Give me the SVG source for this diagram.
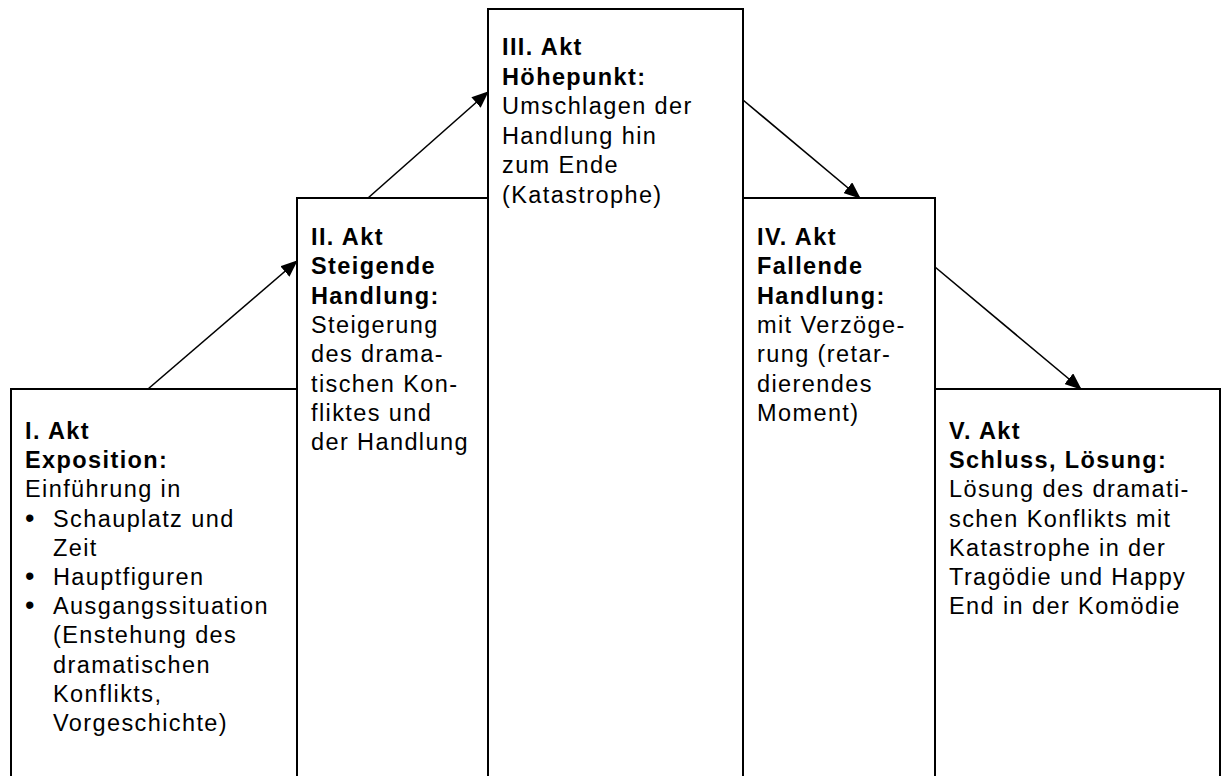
<svg xmlns="http://www.w3.org/2000/svg" width="1221" height="776" viewBox="0 0 1221 776">
<style>
.box{fill:#fff;stroke:#000;stroke-width:2}
text{font-family:"Liberation Sans",Arial,sans-serif;font-size:23.5px;letter-spacing:1.4px;fill:#000}
.b{font-weight:bold}
.bul{font-size:27px}
.con{stroke:#000;stroke-width:1.6;fill:none;marker-end:url(#ah)}
</style>
<defs>
<marker id="ah" viewBox="0 0 17 14" refX="16" refY="7" markerWidth="17" markerHeight="14" markerUnits="userSpaceOnUse" orient="auto">
<path d="M0,0 L17,7 L0,14 z" fill="#000"/>
</marker>
</defs>
<rect width="1221" height="776" fill="#fff"/>
<g id="node1">
<rect class="box" x="11" y="389" width="286" height="420"/>
<text x="25" y="439" class="b">I. Akt</text>
<text x="25" y="468.2" class="b">Exposition:</text>
<text x="25" y="497.4">Einführung in</text>
<text x="25" y="526.6" class="bul">•</text><text x="53" y="526.6">Schauplatz und</text>
<text x="53" y="555.8">Zeit</text>
<text x="25" y="585" class="bul">•</text><text x="53" y="585">Hauptfiguren</text>
<text x="25" y="614.2" class="bul">•</text><text x="53" y="614.2">Ausgangssituation</text>
<text x="53" y="643.4">(Enstehung des</text>
<text x="53" y="672.6">dramatischen</text>
<text x="53" y="701.8">Konflikts,</text>
<text x="53" y="731">Vorgeschichte)</text>
</g>
<g id="node2">
<rect class="box" x="297" y="198" width="191" height="611"/>
<text x="311" y="245" class="b">II. Akt</text>
<text x="311" y="274.3" class="b">Steigende</text>
<text x="311" y="303.6" class="b">Handlung:</text>
<text x="311" y="332.9">Steigerung</text>
<text x="311" y="362.2">des drama-</text>
<text x="311" y="391.5">tischen Kon-</text>
<text x="311" y="420.8">fliktes und</text>
<text x="311" y="450.1">der Handlung</text>
</g>
<g id="node3">
<rect class="box" x="488" y="9" width="255" height="800"/>
<text x="502" y="55" class="b">III. Akt</text>
<text x="502" y="84.6" class="b">Höhepunkt:</text>
<text x="502" y="114.2">Umschlagen der</text>
<text x="502" y="143.8">Handlung hin</text>
<text x="502" y="173.4">zum Ende</text>
<text x="502" y="203">(Katastrophe)</text>
</g>
<g id="node4">
<rect class="box" x="743" y="198" width="192" height="611"/>
<text x="757" y="245" class="b">IV. Akt</text>
<text x="757" y="274.3" class="b">Fallende</text>
<text x="757" y="303.6" class="b">Handlung:</text>
<text x="757" y="332.9">mit Verzöge-</text>
<text x="757" y="362.2">rung (retar-</text>
<text x="757" y="391.5">dierendes</text>
<text x="757" y="420.8">Moment)</text>
</g>
<g id="node5">
<rect class="box" x="935" y="389" width="285" height="420"/>
<text x="949" y="439" class="b">V. Akt</text>
<text x="949" y="468.2" class="b">Schluss, Lösung:</text>
<text x="949" y="497.4">Lösung des dramati-</text>
<text x="949" y="526.6">schen Konflikts mit</text>
<text x="949" y="555.8">Katastrophe in der</text>
<text x="949" y="585">Tragödie und Happy</text>
<text x="949" y="614.2">End in der Komödie</text>
</g>
<g id="connectors">
<line class="con" x1="148" y1="389" x2="297" y2="261"/>
<line class="con" x1="368" y1="198" x2="488" y2="92"/>
<line class="con" x1="743" y1="100" x2="860" y2="198"/>
<line class="con" x1="935" y1="267" x2="1081" y2="389"/>
</g>
</svg>
